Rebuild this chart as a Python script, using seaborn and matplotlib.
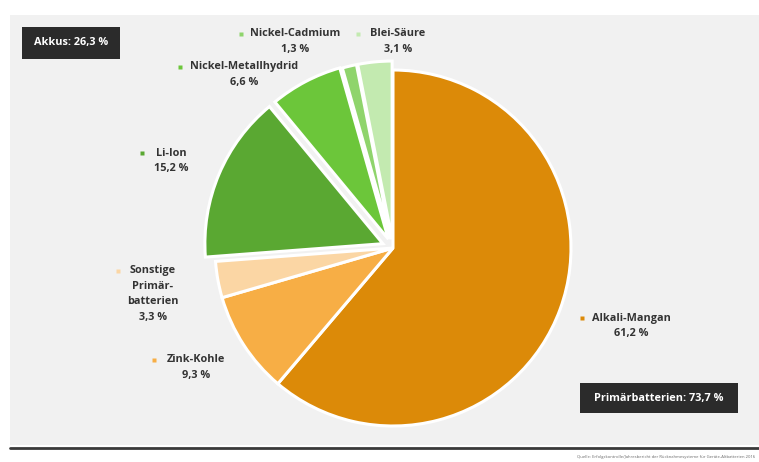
import matplotlib
matplotlib.use("Agg")
import matplotlib.pyplot as plt
import matplotlib.patches as patches
import seaborn as sns

# ---- data ----
categories = ["Alkali-Mangan", "Zink-Kohle", "Sonstige\nPrimär-\nbatterien",
              "Li-Ion", "Nickel-Metallhydrid", "Nickel-Cadmium", "Blei-Säure"]
values = [61.2, 9.3, 3.3, 15.2, 6.6, 1.3, 3.1]
value_labels = ["61,2 %", "9,3 %", "3,3 %", "15,2 %", "6,6 %", "1,3 %", "3,1 %"]
group_labels = ["Akkus: 26,3 %", "Primärbatterien: 73,7 %"]
source_text = ("Quelle: Erfolgskontrolle/Jahresbericht der Rücknahmesysteme "
               "für Geräte-Altbatterien 2016")

sns.set_style("white")
plt.rcParams["font.family"] = ["Open Sans", "DejaVu Sans"]

colors = sns.color_palette(["#dc8a08", "#f7ae45", "#fbd6a4",
                            "#5aa832", "#6cc63a", "#8fd46c", "#c3eab0"])

W, H = 759, 462
fig = plt.figure(figsize=(W / 100, H / 100), dpi=100)
ax = fig.add_axes([0, 0, 1, 1])

# background panel
ax.add_patch(patches.Rectangle((10, H - 445), W - 10, 430, facecolor="#f1f1f1",
                               edgecolor="none", zorder=0))
ax.plot([10, W], [H - 448, H - 448], color="#3a3a3a", lw=2, zorder=1)
ax.text(W - 4, H - 457, source_text, ha="right", va="center", fontsize=3,
        color="#666666")

explode = [0, 0, 0, 11, 10, 9, 9]
ax.pie(values, colors=colors, startangle=90, counterclock=False,
       center=(393, H - 248), radius=178, explode=explode,
       wedgeprops=dict(edgecolor="white", linewidth=2.2))

ax.set_xlim(0, W)
ax.set_ylim(0, H)
ax.set_aspect("auto")
ax.axis("off")

# labels: (marker x, marker y, text center x) in top-based px
label_pos = [
    (582, 318, 631),
    (154, 360, 196),
    (118, 271, 153),
    (142, 153, 171),
    (180, 67, 244),
    (241, 34, 295),
    (358, 34, 398),
]
line_h = 15.5
for cat, val, col, (mx, my, tx) in zip(categories, value_labels, colors, label_pos):
    ax.plot(mx, H - my, marker="s", markersize=3.2, color=col,
            markeredgecolor="none", zorder=5)
    lines = cat.split("\n") + [val]
    for i, ln in enumerate(lines):
        ax.text(tx, H - (my + i * line_h), ln, ha="center", va="center",
                fontsize=7.8, fontweight="bold", color="#333333")

# group boxes
ax.add_patch(patches.Rectangle((22, H - 59), 98, 32, facecolor="#2b2b2b",
                               edgecolor="none", zorder=3))
ax.text(71, H - 43, group_labels[0], ha="center", va="center", fontsize=7.8,
        fontweight="bold", color="white", zorder=4)
ax.add_patch(patches.Rectangle((580, H - 413), 158, 30, facecolor="#2b2b2b",
                               edgecolor="none", zorder=3))
ax.text(659, H - 398, group_labels[1], ha="center", va="center", fontsize=7.8,
        fontweight="bold", color="white", zorder=4)

fig.savefig("out.png", dpi=100, facecolor="white")
